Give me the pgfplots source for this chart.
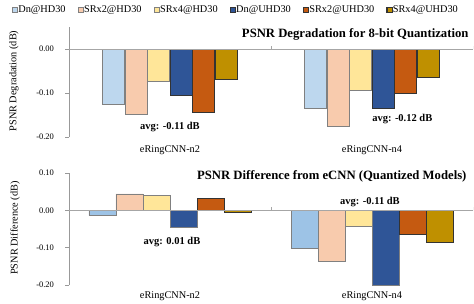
\documentclass[border=0pt]{standalone}
\usepackage{pgfplots}
\pgfplotsset{compat=1.18}
\usepackage{fontspec}
\setmainfont{Liberation Serif}
\definecolor{lb}{HTML}{BDD7EE}
\definecolor{lb2}{HTML}{9DC3E6}
\definecolor{pe}{HTML}{F8CBAD}
\definecolor{ye}{HTML}{FFE699}
\definecolor{db}{HTML}{2F5597}
\definecolor{or}{HTML}{C55A11}
\definecolor{go}{HTML}{BF9000}
\pgfplotsset{
  common/.style={
    scale only axis, width=404pt,
    xmin=-0.5, xmax=1.5,
    axis y line*=left, axis x line*=bottom,
    x axis line style={draw=none},
    y axis line style={draw=gray!80, line width=0.6pt},
    xtick={0,1}, xticklabels={eRingCNN-n2,eRingCNN-n4},
    xtick style={draw=none},
    ytick style={draw=gray!80, line width=0.6pt},
    tick align=outside, major tick length=3.5pt,
    /pgf/number format/.cd, fixed, fixed zerofill, precision=2, assume math mode=true, /pgfplots/.cd,
    yticklabel style={font=\fontsize{8.5}{10}\selectfont, xshift=-8pt},
    xticklabel style={font=\fontsize{10.3}{12}\selectfont},
  },
  lite/.style={draw=black!50, line width=0.8pt},
  dark/.style={draw=black!80, line width=0.8pt},
}
\begin{document}
\begin{tikzpicture}
\useasboundingbox (0pt,0pt) rectangle (474pt,303pt);
\begin{axis}[common, at={(69pt,166pt)}, anchor=south west, height=110pt,
  ymin=-0.2, ymax=0.05, ytick={-0.2,-0.1,0},
  ybar=0.5pt, bar width=22pt,
  legend image code/.code={\fill[#1] (0pt,-2.6pt) rectangle (5.2pt,2.6pt);
       \draw[#1, fill=none, line width=0.5pt] (0pt,-2.6pt) rectangle (5.2pt,2.6pt);},
  xticklabel style={yshift=-1.5pt},
  legend columns=6,
  legend style={at={(0.413,1.1545)}, anchor=center, draw=none, fill=none,
    font=\fontsize{10.3}{12}\selectfont, inner sep=0pt,
    /tikz/every even column/.append style={column sep=10pt},
    /tikz/every odd column/.append style={column sep=-1.5pt}},
  ]
\addplot[fill=lb, lite] coordinates {(0,-0.125) (1,-0.135)};
\addplot[fill=pe, lite] coordinates {(0,-0.148) (1,-0.176)};
\addplot[fill=ye, lite] coordinates {(0,-0.073) (1,-0.095)};
\addplot[fill=db, dark] coordinates {(0,-0.105) (1,-0.134)};
\addplot[fill=or, dark] coordinates {(0,-0.143) (1,-0.102)};
\addplot[fill=go, dark] coordinates {(0,-0.069) (1,-0.064)};
\legend{Dn@HD30,SRx2@HD30,SRx4@HD30,Dn@UHD30,SRx2@UHD30,SRx4@UHD30}
\draw[gray!70, line width=0.8pt] (axis cs:-0.5,0) -- (axis cs:1.5,0);
\draw[gray!70, line width=0.6pt] (axis cs:0.5,0) -- ++(0pt,3pt);
\draw[gray!70, line width=0.6pt] (axis cs:1.5,0) -- ++(0pt,3pt);
\node[font=\bfseries\fontsize{10.5}{12}\selectfont] at (axis cs:0,-0.177) {avg: -0.11 dB};
\node[font=\bfseries\fontsize{10.5}{12}\selectfont] at (axis cs:1.15,-0.159) {avg: -0.12 dB};
\end{axis}
\begin{axis}[common, at={(69pt,18pt)}, anchor=south west, height=112pt,
  ymin=-0.2, ymax=0.1, ytick={-0.2,-0.1,0,0.1},
  ybar=0pt, bar width=27pt,
  xticklabel style={yshift=0pt},
  ]
\addplot[fill=lb2, lite] coordinates {(0,-0.0145) (1,-0.103)};
\addplot[fill=pe, lite] coordinates {(0,0.044) (1,-0.136)};
\addplot[fill=ye, lite] coordinates {(0,0.039) (1,-0.042)};
\addplot[fill=db, lite] coordinates {(0,-0.047) (1,-0.200)};
\addplot[fill=or, dark] coordinates {(0,0.031) (1,-0.064)};
\addplot[fill=go, dark] coordinates {(0,-0.005) (1,-0.086)};
\draw[gray!70, line width=0.8pt] (axis cs:-0.5,0) -- (axis cs:1.5,0);
\draw[gray!70, line width=0.6pt] (axis cs:0.5,0) -- ++(0pt,3pt);
\draw[gray!70, line width=0.6pt] (axis cs:1.5,0) -- ++(0pt,3pt);
\node[font=\bfseries\fontsize{10.5}{12}\selectfont] at (axis cs:0.01,-0.085) {avg: 0.01 dB};
\node[font=\bfseries\fontsize{10.5}{12}\selectfont] at (axis cs:0.99,0.022) {avg: -0.11 dB};
\end{axis}
\node[anchor=east, font=\bfseries\fontsize{12.7}{14}\selectfont] at (472pt,269pt) {PSNR Degradation for 8-bit Quantization};
\node[anchor=east, font=\bfseries\fontsize{12.7}{14}\selectfont] at (470pt,127pt) {PSNR Difference from eCNN (Quantized Models)};
\node[rotate=90, font=\fontsize{10.3}{12}\selectfont] at (14pt,222pt) {PSNR Degradation (dB)};
\node[rotate=90, font=\fontsize{10.3}{12}\selectfont] at (15pt,75pt) {PSNR Difference (dB)};
\end{tikzpicture}
\end{document}
